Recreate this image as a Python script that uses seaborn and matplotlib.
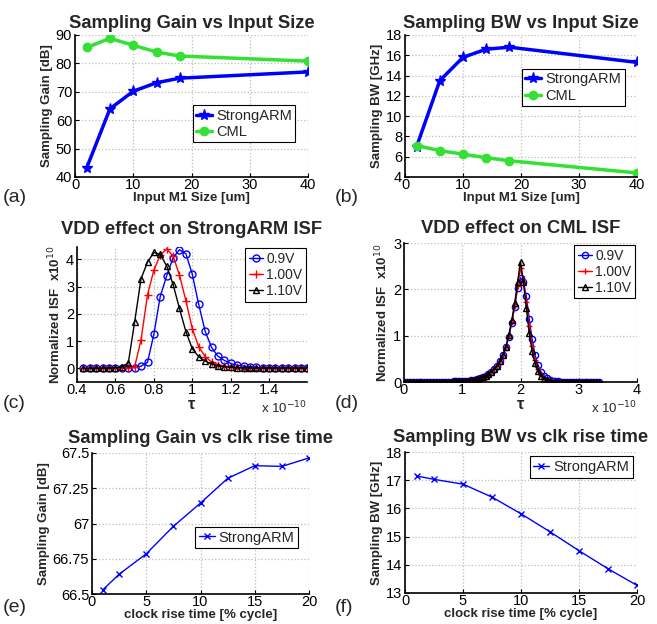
import numpy as np
import pandas as pd
import matplotlib
matplotlib.use("Agg")
import matplotlib.pyplot as plt
import seaborn as sns

# (a), (b): input size sweep
m1_size = [2, 6, 10, 14, 18, 40]
gain_strongarm = [43.2, 64.0, 70.2, 73.2, 74.8, 77.0]
gain_cml = [85.6, 88.8, 86.4, 84.0, 82.6, 80.8]
bw_strongarm = [7.0, 13.5, 15.8, 16.6, 16.8, 15.3]
bw_cml = [7.1, 6.6, 6.25, 5.9, 5.6, 4.4]

# (c): StrongARM ISF vs VDD (tau in 1e-10 s, ISF in 1e10)
tau_sa = [0.433, 0.467, 0.5, 0.533, 0.567, 0.6, 0.633, 0.667, 0.7, 0.733,
          0.767, 0.8, 0.833, 0.867, 0.9, 0.933, 0.967, 1.0, 1.033, 1.067,
          1.1, 1.133, 1.167, 1.2, 1.233, 1.267, 1.3, 1.333, 1.367, 1.4,
          1.433, 1.467, 1.5, 1.533, 1.567, 1.597]
isf_sa_090 = [0, 0, 0, 0, 0, 0.01, 0.01, 0.02, 0.03, 0.08,
              0.22, 1.25, 2.63, 3.4, 4.05, 4.35, 4.2, 3.45, 2.36, 1.36,
              0.77, 0.45, 0.29, 0.18, 0.12, 0.08, 0.06, 0.04, 0.03, 0.02,
              0.02, 0.01, 0.01, 0.01, 0.01, 0.01]
isf_sa_100 = [0, 0, 0, 0, 0.01, 0.01, 0.02, 0.03, 0.06, 1.03,
              2.7, 3.6, 4.15, 4.38, 4.12, 3.43, 2.47, 1.46, 0.8, 0.43,
              0.24, 0.14, 0.08, 0.05, 0.04, 0.03, 0.02, 0.02, 0.01, 0.01,
              0.01, 0.01, 0.01, 0.01, 0.01, 0.01]
isf_sa_110 = [0, 0, 0, 0.01, 0.01, 0.02, 0.05, 0.2, 1.7, 3.28,
              3.9, 4.25, 4.18, 3.75, 3.08, 2.2, 1.34, 0.72, 0.43, 0.27,
              0.16, 0.1, 0.06, 0.04, 0.03, 0.02, 0.02, 0.01, 0.01, 0.01,
              0.01, 0.01, 0.01, 0.01, 0.01, 0.01]

# (d): CML ISF vs VDD
tau_cml = [0.0, 0.05, 0.1, 0.15, 0.2, 0.25, 0.3, 0.35, 0.4, 0.45,
           0.5, 0.55, 0.6, 0.65, 0.7, 0.75, 0.8, 0.85, 0.9, 0.95,
           1.0, 1.05, 1.1, 1.15, 1.2, 1.25, 1.3, 1.35, 1.4, 1.45,
           1.5, 1.55, 1.6, 1.65, 1.7, 1.75, 1.8, 1.85, 1.9, 1.95,
           2.0, 2.05, 2.1, 2.15, 2.2, 2.25, 2.3, 2.35, 2.4, 2.45,
           2.5, 2.55, 2.6, 2.65, 2.7, 2.75, 2.8, 2.85, 2.9, 2.95,
           3.0, 3.05, 3.1, 3.15, 3.2, 3.25, 3.3, 3.35]
isf_cml_090 = [0, 0, 0, 0, 0, 0, 0.01, 0.01, 0.01, 0.01,
               0.01, 0.01, 0.01, 0.01, 0.01, 0.01, 0.01, 0.02, 0.02, 0.02,
               0.02, 0.03, 0.03, 0.04, 0.05, 0.06, 0.08, 0.1, 0.13, 0.17,
               0.22, 0.28, 0.35, 0.45, 0.58, 0.76, 0.98, 1.28, 1.62, 2.02,
               2.25, 2.15, 1.85, 1.35, 0.92, 0.58, 0.36, 0.22, 0.13, 0.08,
               0.05, 0.03, 0.02, 0.02, 0.01, 0.01, 0.01, 0.01, 0.01, 0.01,
               0.01, 0.01, 0.01, 0.01, 0.01, 0.01, 0.01, 0.01]
isf_cml_100 = [0, 0, 0, 0, 0, 0, 0.01, 0.01, 0.01, 0.01,
               0.01, 0.01, 0.01, 0.01, 0.01, 0.01, 0.01, 0.02, 0.02, 0.02,
               0.02, 0.03, 0.03, 0.04, 0.05, 0.06, 0.08, 0.1, 0.13, 0.17,
               0.22, 0.28, 0.35, 0.45, 0.58, 0.76, 1.0, 1.3, 1.65, 2.08,
               2.45, 2.2, 1.72, 1.2, 0.78, 0.48, 0.28, 0.16, 0.09, 0.05,
               0.03, 0.02, 0.01, 0.01, 0.01, 0.01, 0.01, 0.01, 0.01, 0.01,
               0.01, 0.01, 0.01, 0.01, 0.01, 0.01, 0.01, 0.01]
isf_cml_110 = [0, 0, 0, 0, 0, 0, 0.01, 0.01, 0.01, 0.01,
               0.01, 0.01, 0.01, 0.01, 0.01, 0.01, 0.01, 0.02, 0.02, 0.02,
               0.02, 0.03, 0.03, 0.04, 0.05, 0.06, 0.08, 0.1, 0.13, 0.17,
               0.22, 0.28, 0.35, 0.45, 0.58, 0.76, 1.02, 1.33, 1.7, 2.15,
               2.6, 2.15, 1.6, 1.05, 0.66, 0.4, 0.23, 0.13, 0.07, 0.04,
               0.02, 0.01, 0.01, 0.01, 0.01, 0.01, 0.01, 0.01, 0.01, 0.01,
               0.01, 0.01, 0.01, 0.01, 0.01, 0.01, 0.01, 0.01]

# (e), (f): clock rise time sweep
rise_time = [1, 2.5, 5, 7.5, 10, 12.5, 15, 17.5, 20]
gain_rise = [66.53, 66.64, 66.785, 66.98, 67.145, 67.32, 67.41, 67.405, 67.465]
bw_rise = [17.15, 17.03, 16.86, 16.40, 15.81, 15.17, 14.50, 13.86, 13.27]

vdd_labels = ["0.9V", "1.00V", "1.10V"]

sns.set_style("whitegrid")
plt.rcParams["font.family"] = ["Liberation Sans", "DejaVu Sans"]
plt.rcParams["axes.edgecolor"] = "black"
plt.rcParams["grid.color"] = "#bdbdbd"
plt.rcParams["grid.linestyle"] = ":"
plt.rcParams["grid.linewidth"] = 0.9

BLUE = "#0000ff"
GREEN = "#33e033"
RED = "#ff0000"
BLACK = "#000000"

W, H = 657, 624
fig = plt.figure(figsize=(W / 100, H / 100), dpi=100)


def add_ax(left, top, right, bottom):
    return fig.add_axes([left / W, 1 - bottom / H, (right - left) / W, (bottom - top) / H])


def style(ax, title, xlabel, ylabel, pad=5):
    ax.set_title(title, fontsize=13.2, fontweight="bold", pad=pad)
    ax.set_xlabel(xlabel, fontsize=9.5, fontweight="bold", labelpad=0)
    ax.set_ylabel(ylabel, fontsize=9.5, fontweight="bold", labelpad=2)
    ax.tick_params(axis="both", labelsize=10.5, direction="in", length=3,
                   colors="black", left=True, bottom=True)
    ax.tick_params(axis="x", pad=1)
    ax.tick_params(axis="y", pad=2)
    for s in ["top", "right"]:
        ax.spines[s].set_visible(False)
    for s in ["left", "bottom"]:
        ax.spines[s].set_linewidth(1.2)
    ax.grid(True)


def leg(ax, fs=10.5, bap=0.3, hl=1.1, **kw):
    lg = ax.legend(fontsize=fs, fancybox=False, edgecolor="black", framealpha=1,
                   handlelength=hl, handletextpad=0.25, borderpad=0.25,
                   labelspacing=0.15, borderaxespad=bap, **kw)
    lg.get_frame().set_linewidth(0.8)
    return lg


def line(ax, x, y, label, color, marker, ms, lw, mfc=None):
    df = pd.DataFrame({"x": x, "y": y})
    sns.lineplot(data=df, x="x", y="y", ax=ax, label=label, color=color,
                 marker=marker, markersize=ms, linewidth=lw,
                 markeredgecolor=color, markeredgewidth=1,
                 markerfacecolor=color if mfc is None else mfc,
                 sort=False, estimator=None)


# (a)
ax = add_ax(75, 35, 308, 177)
line(ax, m1_size, gain_strongarm, "StrongARM", BLUE, "*", 8, 2.5)
line(ax, m1_size, gain_cml, "CML", GREEN, "o", 6, 2.5)
ax.set_xlim(0, 40)
ax.set_ylim(40, 90)
ax.set_xticks([0, 10, 20, 30, 40])
ax.set_yticks([40, 50, 60, 70, 80, 90])
style(ax, "Sampling Gain vs Input Size", "Input M1 Size [um]", "Sampling Gain [dB]")
leg(ax, loc="center right", bbox_to_anchor=(0.965, 0.375))

# (b)
ax = add_ax(405, 35, 637, 177)
line(ax, m1_size, bw_strongarm, "StrongARM", BLUE, "*", 8, 2.5)
line(ax, m1_size, bw_cml, "CML", GREEN, "o", 6, 2.5)
ax.set_xlim(0, 40)
ax.set_ylim(4, 18)
ax.set_xticks([0, 10, 20, 30, 40])
ax.set_yticks([4, 6, 8, 10, 12, 14, 16, 18])
style(ax, "Sampling BW vs Input Size", "Input M1 Size [um]", "Sampling BW [GHz]")
leg(ax, loc="center right", bbox_to_anchor=(0.965, 0.63))

# (c)
ax = add_ax(77, 247, 307, 382)
line(ax, tau_sa, isf_sa_090, vdd_labels[0], BLUE, "o", 5, 1, mfc="none")
line(ax, tau_sa, isf_sa_100, vdd_labels[1], RED, "+", 6, 1)
line(ax, tau_sa, isf_sa_110, vdd_labels[2], BLACK, "^", 5, 1, mfc="none")
ax.set_xlim(0.4, 1.597)
ax.set_ylim(-0.5, 4.45)
ax.set_xticks([0.4, 0.6, 0.8, 1.0, 1.2, 1.4])
ax.set_xticklabels(["0.4", "0.6", "0.8", "1", "1.2", "1.4"])
ax.set_yticks([0, 1, 2, 3, 4])
style(ax, "VDD effect on StrongARM ISF", "τ", "Normalized ISF  x10$^{10}$", pad=9)
ax.xaxis.label.set_fontsize(12)
ax.text(1.0, -0.19, "x 10$^{-10}$", transform=ax.transAxes, ha="right", va="center", fontsize=9.5)
leg(ax, fs=10, loc="upper right", bap=0.1, hl=1.0)

# (d)
ax = add_ax(404, 243, 637, 382)
line(ax, tau_cml, isf_cml_090, vdd_labels[0], BLUE, "o", 4.5, 1, mfc="none")
line(ax, tau_cml, isf_cml_100, vdd_labels[1], RED, "+", 5, 1)
line(ax, tau_cml, isf_cml_110, vdd_labels[2], BLACK, "^", 4.5, 1, mfc="none")
ax.set_xlim(0, 4)
ax.set_ylim(0, 3)
ax.set_xticks([0, 1, 2, 3, 4])
ax.set_yticks([0, 1, 2, 3])
style(ax, "VDD effect on CML ISF", "τ", "Normalized ISF  x10$^{10}$", pad=7)
ax.xaxis.label.set_fontsize(12)
ax.text(1.0, -0.19, "x 10$^{-10}$", transform=ax.transAxes, ha="right", va="center", fontsize=9.5)
leg(ax, fs=10, loc="upper right", bap=0.15, hl=1.0)

# (e)
ax = add_ax(92, 453, 309, 594)
line(ax, rise_time, gain_rise, "StrongARM", BLUE, "x", 4, 1)
ax.set_xlim(0, 20)
ax.set_ylim(66.5, 67.5)
ax.set_xticks([0, 5, 10, 15, 20])
ax.set_yticks([66.5, 66.75, 67, 67.25, 67.5])
ax.set_yticklabels(["66.5", "66.75", "67", "67.25", "67.5"])
style(ax, "Sampling Gain vs clk rise time", "clock rise time [% cycle]", "Sampling Gain [dB]", pad=7)
leg(ax, loc="center right", bbox_to_anchor=(0.97, 0.4))

# (f)
ax = add_ax(405, 452, 637, 593)
line(ax, rise_time, bw_rise, "StrongARM", BLUE, "x", 4, 1)
ax.set_xlim(0, 20)
ax.set_ylim(13, 18)
ax.set_xticks([0, 5, 10, 15, 20])
ax.set_yticks([13, 14, 15, 16, 17, 18])
style(ax, "Sampling BW vs clk rise time", "clock rise time [% cycle]", "Sampling BW [GHz]", pad=7)
leg(ax, loc="upper right")

for lab, x, y in [("(a)", 3, 197), ("(b)", 335, 197), ("(c)", 3, 404),
                  ("(d)", 335, 404), ("(e)", 3, 608), ("(f)", 335, 608)]:
    fig.text(x / W, 1 - y / H, lab, fontsize=14, va="center", ha="left")

fig.savefig("out.png", dpi=100)
